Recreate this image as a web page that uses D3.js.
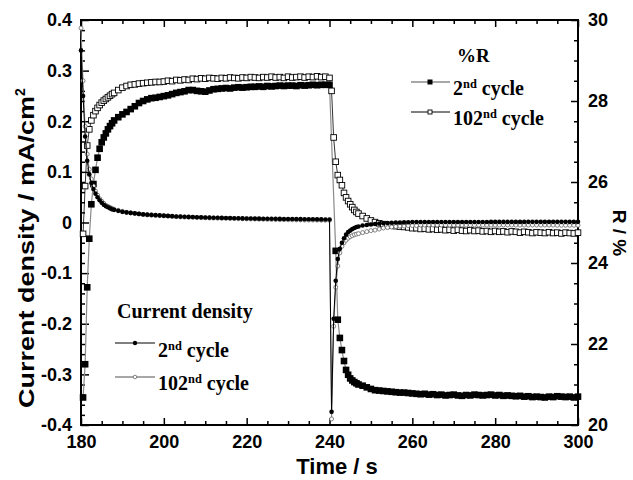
<!DOCTYPE html>
<html><head><meta charset="utf-8">
<script src="https://cdn.jsdelivr.net/npm/d3@7"></script>
<style>body{margin:0;background:#fff}svg{display:block}</style>
</head><body>
<svg id="chart" width="633" height="480"></svg>
<script>
// ---- data ----
const time = [
 180,180.5,181,181.5,182,182.5,183,183.5,184,
 184.5,185,185.5,186,186.5,187,187.5,188,
 189,190,191,192,193,194,195,196,197,198,
 199,200,201,202,203,204,205,206,207,208,
 209,210,211,212,213,214,215,216,217,218,
 219,220,221,222,223,224,225,226,227,228,
 229,230,231,232,233,234,235,236,237,238,239,
 240,240.5,241,241.5,242,242.5,243,243.5,
 244,244.5,245,245.5,246,246.5,247,
 248,249,250,251,252,253,254,255,256,257,
 258,259,260,261,262,263,264,265,266,267,
 268,269,270,271,272,273,274,275,276,277,
 278,279,280,281,282,283,284,285,286,287,
 288,289,290,291,292,293,294,295,296,297,298,299,300];

const cd2nd = [
 0.340,0.250,0.170,0.122,0.095,0.078,0.066,0.057,0.050,
 0.044,0.039,0.035,0.032,0.030,0.028,0.026,0.025,
 0.023,0.021,0.020,0.019,0.018,0.017,0.016,0.0155,0.015,0.0145,
 0.014,0.0135,0.013,0.0125,0.012,0.0117,0.0114,0.0111,0.0108,0.0105,
 0.0102,0.0100,0.0097,0.0095,0.0093,0.0091,0.0089,0.0087,0.0085,0.0083,
 0.0081,0.0080,0.0078,0.0077,0.0076,0.0075,0.0074,0.0073,0.0072,0.0071,
 0.0070,0.0069,0.0068,0.0067,0.0066,0.0065,0.0064,0.0063,0.0062,0.0061,0.0060,
 0.0060,-0.374,-0.190,-0.115,-0.072,-0.052,-0.040,-0.031,
 -0.024,-0.019,-0.016,-0.013,-0.011,-0.009,-0.008,
 -0.006,-0.005,-0.004,-0.003,-0.002,-0.0015,-0.001,-0.0005,0.000,0.000,
 0.0005,0.0005,0.001,0.001,0.001,0.001,0.001,0.001,0.001,0.001,
 0.001,0.001,0.001,0.001,0.001,0.001,0.001,0.001,0.001,0.001,
 0.001,0.0012,0.0012,0.0012,0.0012,0.0012,0.0012,0.0012,0.0012,0.0012,
 0.0013,0.0013,0.0013,0.0013,0.0013,0.0013,0.0013,0.0013,0.0013,0.0013,0.0013,0.0013,0.0013];

const cd102nd = [
 0.384,0.280,0.190,0.135,0.105,0.086,0.072,0.062,0.054,
 0.047,0.042,0.038,0.034,0.032,0.030,0.028,0.026,
 0.024,0.022,0.020,0.019,0.018,0.017,0.016,0.015,0.0145,0.014,
 0.0135,0.013,0.0125,0.012,0.0115,0.011,0.0107,0.0104,0.0101,0.0098,
 0.0095,0.0092,0.0090,0.0088,0.0086,0.0084,0.0082,0.0080,0.0078,0.0076,
 0.0074,0.0072,0.0070,0.0068,0.0066,0.0064,0.0062,0.0060,0.0058,0.0056,
 0.0055,0.0054,0.0053,0.0052,0.0051,0.0050,0.0049,0.0048,0.0047,0.0046,0.0045,
 0.0045,-0.388,-0.205,-0.128,-0.086,-0.060,-0.047,-0.040,
 -0.035,-0.031,-0.028,-0.026,-0.024,-0.023,-0.022,
 -0.020,-0.018,-0.016,-0.015,-0.013,-0.011,-0.010,-0.009,-0.008,-0.007,
 -0.007,-0.006,-0.006,-0.006,-0.005,-0.005,-0.005,-0.005,-0.005,-0.005,
 -0.005,-0.005,-0.005,-0.005,-0.005,-0.005,-0.005,-0.005,-0.005,-0.005,
 -0.005,-0.005,-0.005,-0.005,-0.005,-0.005,-0.005,-0.005,-0.005,-0.005,
 -0.005,-0.005,-0.005,-0.005,-0.005,-0.005,-0.005,-0.0055,-0.0055,-0.0055,-0.0055,-0.0055,-0.0055];

const r2nd = [
 null,20.68,21.5,23.4,24.6,25.45,25.95,26.3,26.6,
 26.82,26.98,27.1,27.2,27.3,27.38,27.45,27.52,
 27.6,27.67,27.73,27.8,27.87,27.95,28.0,28.04,28.07,28.08,
 28.1,28.12,28.14,28.17,28.2,28.22,28.24,28.27,28.27,28.25,
 28.24,28.23,28.26,28.29,28.3,28.31,28.32,28.31,28.33,28.34,
 28.33,28.34,28.35,28.35,28.36,28.35,28.37,28.36,28.37,28.38,
 28.37,28.38,28.38,28.37,28.39,28.38,28.39,28.4,28.39,28.4,28.4,
 28.4,null,null,24.3,22.6,22.15,21.85,21.58,
 21.36,21.24,21.15,21.1,21.06,21.03,21.0,
 20.97,20.93,20.89,20.86,20.85,20.84,20.83,20.82,20.81,20.8,
 20.8,20.79,20.78,20.77,20.76,20.77,20.75,20.76,20.74,20.75,
 20.73,20.74,20.75,20.73,20.72,20.74,20.73,20.75,20.74,20.73,
 20.74,20.75,20.73,20.74,20.72,20.73,20.72,20.71,20.72,20.7,
 20.71,20.69,20.7,20.69,20.68,20.7,20.69,20.71,20.7,20.69,20.7,20.68,20.7];

const r102nd = [
 null,24.72,25.9,26.9,27.3,27.52,27.65,27.75,27.83,
 27.9,27.96,28.01,28.05,28.09,28.13,28.17,28.2,
 28.27,28.33,28.37,28.4,28.41,28.43,28.44,28.45,28.46,28.47,
 28.47,28.48,28.5,28.49,28.52,28.51,28.53,28.52,28.55,28.54,
 28.56,28.55,28.57,28.56,28.55,28.57,28.56,28.58,28.57,28.56,
 28.58,28.57,28.59,28.58,28.57,28.59,28.58,28.6,28.58,28.59,
 28.57,28.6,28.58,28.59,28.6,28.58,28.6,28.59,28.61,28.59,28.6,
 28.57,28.25,27.1,26.5,26.17,26.05,25.92,25.73,
 25.62,25.53,25.45,25.38,25.31,25.26,25.22,
 25.16,25.1,25.05,25.01,24.98,24.96,24.94,24.93,24.91,24.9,
 24.89,24.88,24.86,24.86,24.84,24.85,24.83,24.84,24.82,24.83,
 24.81,24.82,24.8,24.82,24.8,24.79,24.81,24.79,24.8,24.78,
 24.79,24.77,24.79,24.77,24.78,24.76,24.78,24.77,24.75,24.77,
 24.76,24.74,24.76,24.75,24.74,24.76,24.74,24.75,24.73,24.75,24.74,24.73,24.75];

const xTicks = [180,200,220,240,260,280,300];
const yLeftTicks = [-0.4,-0.3,-0.2,-0.1,0,0.1,0.2,0.3,0.4];
const yRightTicks = [20,22,24,26,28,30];

// ---- layout ----
const L = 81, R = 578, T = 20, B = 425;
const svg = d3.select("#chart");
const x = d3.scaleLinear().domain([180,300]).range([L,R]);
const yL = d3.scaleLinear().domain([-0.4,0.4]).range([B,T]);
const yR = d3.scaleLinear().domain([20,30]).range([B,T]);

const xMinor = d3.range(180,301,5).filter(v => v % 20 !== 0);
const yLMinor = d3.range(-40,41,2).filter(v => v % 10 !== 0).map(v => v/100);
const yRMinor = d3.range(40,61).filter(v => v % 4 !== 0).map(v => v/2);

const tickFont = "'Liberation Sans', Arial, sans-serif";
const serif = "'Liberation Serif', 'Times New Roman', serif";

function styleAxis(g){
  g.select(".domain").remove();
  g.selectAll(".tick line").attr("stroke","#000").attr("stroke-width",1.5);
  g.selectAll(".tick text").attr("font-family",tickFont).attr("font-weight","bold")
   .attr("font-size",18).attr("fill","#000");
}

// bottom
svg.append("g").attr("transform",`translate(0,${B})`)
  .call(d3.axisBottom(x).tickValues(xTicks).tickSize(-7).tickPadding(10).tickFormat(d3.format("d")))
  .call(styleAxis);
svg.append("g").attr("transform",`translate(0,${B})`)
  .call(d3.axisBottom(x).tickValues(xMinor).tickSize(-4).tickFormat(""))
  .call(styleAxis);
// top
svg.append("g").attr("transform",`translate(0,${T})`)
  .call(d3.axisTop(x).tickValues(xTicks).tickSize(-7).tickFormat(""))
  .call(styleAxis);
svg.append("g").attr("transform",`translate(0,${T})`)
  .call(d3.axisTop(x).tickValues(xMinor).tickSize(-4).tickFormat(""))
  .call(styleAxis);
// left
svg.append("g").attr("transform",`translate(${L},0)`)
  .call(d3.axisLeft(yL).tickValues(yLeftTicks).tickSize(-8).tickPadding(9)
    .tickFormat(d => Math.abs(d) < 1e-9 ? "0" : d.toFixed(1)))
  .call(styleAxis);
svg.append("g").attr("transform",`translate(${L},0)`)
  .call(d3.axisLeft(yL).tickValues(yLMinor).tickSize(-4).tickFormat(""))
  .call(styleAxis);
// right
svg.append("g").attr("transform",`translate(${R},0)`)
  .call(d3.axisRight(yR).tickValues(yRightTicks).tickSize(-7).tickPadding(10).tickFormat(d3.format("d")))
  .call(styleAxis);
svg.append("g").attr("transform",`translate(${R},0)`)
  .call(d3.axisRight(yR).tickValues(yRMinor).tickSize(-4).tickFormat(""))
  .call(styleAxis);

// frame
svg.append("rect").attr("x",L).attr("y",T).attr("width",R-L).attr("height",B-T)
  .attr("fill","none").attr("stroke","#000").attr("stroke-width",2);

// ---- series ----
function series(arr){ return time.map((t,i)=>({t, v: arr[i]})).filter(d => d.v !== null); }
const plot = svg.append("g");

function drawLine(data, yScale, color, w){
  plot.append("path").datum(data)
    .attr("d", d3.line().x(d=>x(d.t)).y(d=>yScale(d.v)))
    .attr("fill","none").attr("stroke",color).attr("stroke-width",w);
}

const dR2 = series(r2nd), dR102 = series(r102nd), dC2 = series(cd2nd), dC102 = series(cd102nd);

drawLine(dR2, yR, "#8a8a8a", 1.2);
plot.append("g").selectAll("rect").data(dR2).join("rect")
  .attr("x", d => x(d.t)-3.3).attr("y", d => yR(d.v)-3.3).attr("width",6.6).attr("height",6.6)
  .attr("fill","#000");

drawLine(dR102, yR, "#000", 0.8);
plot.append("g").selectAll("rect").data(dR102).join("rect")
  .attr("x", d => x(d.t)-2.8).attr("y", d => yR(d.v)-2.8).attr("width",5.6).attr("height",5.6)
  .attr("fill","#fff").attr("stroke","#000").attr("stroke-width",0.9);

drawLine(dC102, yL, "#8a8a8a", 1);
plot.append("g").selectAll("circle").data(dC102).join("circle")
  .attr("cx", d => x(d.t)).attr("cy", d => yL(d.v)).attr("r",2)
  .attr("fill","#fff").attr("stroke","#666").attr("stroke-width",0.8);

drawLine(dC2, yL, "#000", 1);
plot.append("g").selectAll("circle").data(dC2).join("circle")
  .attr("cx", d => x(d.t)).attr("cy", d => yL(d.v)).attr("r",2.3)
  .attr("fill","#000");

// ---- axis titles ----
svg.append("text").attr("x",337).attr("y",474).attr("text-anchor","middle")
  .attr("font-family",tickFont).attr("font-weight","bold").attr("font-size",22)
  .text("Time / s");

const yt = svg.append("text").attr("transform","translate(34,408) rotate(-90)")
  .attr("text-anchor","start").attr("font-family",tickFont).attr("font-weight","bold")
  .attr("font-size",22);
yt.append("tspan").attr("textLength",312).attr("lengthAdjust","spacingAndGlyphs")
  .text("Current density / mA/cm");
yt.append("tspan").attr("font-size",14).attr("dy",-9).text("2");

svg.append("text").attr("transform","translate(613,233) rotate(90)")
  .attr("text-anchor","middle").attr("font-family",tickFont).attr("font-weight","bold")
  .attr("font-size",19).text("R / %");

// ---- legends ----
function legendText(xp, yp, pre, size){
  const t = svg.append("text").attr("x",xp).attr("y",yp).attr("font-family",serif)
    .attr("font-weight","bold").attr("font-size",size);
  t.append("tspan").text(pre);
  t.append("tspan").attr("font-size",size*0.62).attr("dy",-7).text("nd");
  t.append("tspan").attr("dy",7).text(" cycle");
}
// %R legend
svg.append("text").attr("x",457).attr("y",62).attr("font-family",serif)
  .attr("font-weight","bold").attr("font-size",19).text("%R");
svg.append("line").attr("x1",411).attr("x2",450).attr("y1",82).attr("y2",82)
  .attr("stroke","#8a8a8a").attr("stroke-width",1.5);
svg.append("rect").attr("x",427.5).attr("y",79.5).attr("width",5).attr("height",5).attr("fill","#000");
legendText(453, 95, "2", 20);
svg.append("line").attr("x1",411).attr("x2",450).attr("y1",112).attr("y2",112)
  .attr("stroke","#000").attr("stroke-width",1);
svg.append("rect").attr("x",428).attr("y",110).attr("width",4).attr("height",4)
  .attr("fill","#fff").attr("stroke","#000").attr("stroke-width",0.9);
legendText(453, 125, "102", 20);

// Current density legend
svg.append("text").attr("x",117).attr("y",318).attr("font-family",serif)
  .attr("font-weight","bold").attr("font-size",20).text("Current density");
svg.append("line").attr("x1",115).attr("x2",155).attr("y1",343).attr("y2",343)
  .attr("stroke","#000").attr("stroke-width",1);
svg.append("circle").attr("cx",135).attr("cy",343).attr("r",2.2).attr("fill","#000");
legendText(158, 357, "2", 20);
svg.append("line").attr("x1",115).attr("x2",155).attr("y1",377).attr("y2",377)
  .attr("stroke","#8a8a8a").attr("stroke-width",1.5);
svg.append("circle").attr("cx",135).attr("cy",377).attr("r",1.8)
  .attr("fill","#fff").attr("stroke","#666").attr("stroke-width",0.8);
legendText(158, 390, "102", 20);
</script>
</body></html>
